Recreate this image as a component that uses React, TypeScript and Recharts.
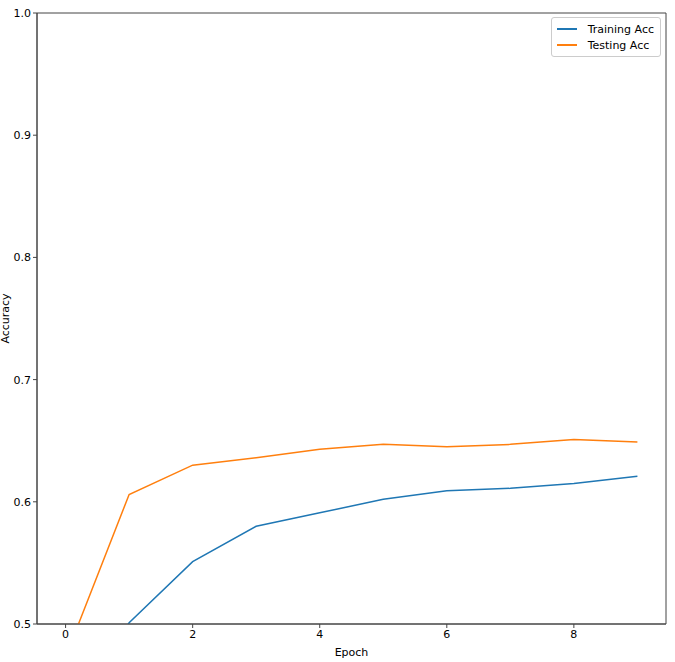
import { LineChart, Line, XAxis, YAxis, ReferenceArea } from "recharts";

const epochs = [0, 1, 2, 3, 4, 5, 6, 7, 8, 9];
const trainingAcc = [0.42, 0.501, 0.551, 0.58, 0.591, 0.602, 0.609, 0.611, 0.615, 0.621];
const testingAcc = [0.473, 0.606, 0.63, 0.636, 0.643, 0.647, 0.645, 0.647, 0.651, 0.649];
const xTicks = [0, 2, 4, 6, 8];
const yTicks = [0.5, 0.6, 0.7, 0.8, 0.9, 1.0];

const data = epochs.map((e, i) => ({
  epoch: e,
  train: trainingAcc[i],
  test: testingAcc[i],
}));

const FONT = "'DejaVu Sans', sans-serif";
const AXIS = "#444";
const X_DOMAIN: [number, number] = [-0.45, 9.45];
const Y_DOMAIN: [number, number] = [0.5, 1.0];

function LegendBox() {
  const items = [
    { label: "Training Acc", color: "#1f77b4" },
    { label: "Testing Acc", color: "#ff7f0e" },
  ];
  return (
    <div
      style={{
        position: "absolute",
        top: 17,
        right: 14,
        border: "1px solid #ccc",
        borderRadius: 3,
        background: "#fff",
        padding: "3px 6px 3px 5px",
        fontFamily: FONT,
        fontSize: 11,
        color: "#000",
      }}
    >
      {items.map((it) => (
        <div key={it.label} style={{ display: "flex", alignItems: "center", height: 16 }}>
          <span style={{ display: "inline-block", width: 20, height: 2, background: it.color, marginRight: 11 }} />
          {it.label}
        </div>
      ))}
    </div>
  );
}

export default function App() {
  return (
    <div style={{ position: "fixed", left: 0, top: 0, width: 675, height: 662, background: "#fff" }}>
      <LineChart width={675} height={662} data={data} margin={{ top: 13, right: 9, bottom: 0, left: 0 }}>
        <XAxis
          dataKey="epoch"
          type="number"
          domain={X_DOMAIN}
          ticks={xTicks}
          allowDataOverflow
          height={38}
          tickSize={4}
          tickMargin={2}
          stroke={AXIS}
          tick={{ fill: "#000", fontSize: 11, fontFamily: FONT }}
          label={{
            content: ({ viewBox }: any) => (
              <text x={viewBox.x + viewBox.width / 2} y={656} textAnchor="middle" fontFamily={FONT} fontSize={11} fill="#000">
                Epoch
              </text>
            ),
          }}
        />
        <YAxis
          type="number"
          domain={Y_DOMAIN}
          ticks={yTicks}
          allowDataOverflow
          width={37}
          tickSize={4}
          tickMargin={2}
          stroke={AXIS}
          tick={{ fill: "#000", fontSize: 11, fontFamily: FONT }}
          tickFormatter={(v: number) => v.toFixed(1)}
          label={{
            content: ({ viewBox }: any) => {
              const cy = viewBox.y + viewBox.height / 2;
              return (
                <text x={9} y={cy} transform={`rotate(-90, 9, ${cy})`} textAnchor="middle" fontFamily={FONT} fontSize={11} fill="#000">
                  Accuracy
                </text>
              );
            },
          }}
        />
        <ReferenceArea
          x1={X_DOMAIN[0]}
          x2={X_DOMAIN[1]}
          y1={Y_DOMAIN[0]}
          y2={Y_DOMAIN[1]}
          fill="none"
          stroke={AXIS}
          strokeWidth={1}
          ifOverflow="visible"
        />
        <Line dataKey="train" name="Training Acc" stroke="#1f77b4" strokeWidth={1.5} dot={false} isAnimationActive={false} />
        <Line dataKey="test" name="Testing Acc" stroke="#ff7f0e" strokeWidth={1.5} dot={false} isAnimationActive={false} />
      </LineChart>
      <LegendBox />
    </div>
  );
}
